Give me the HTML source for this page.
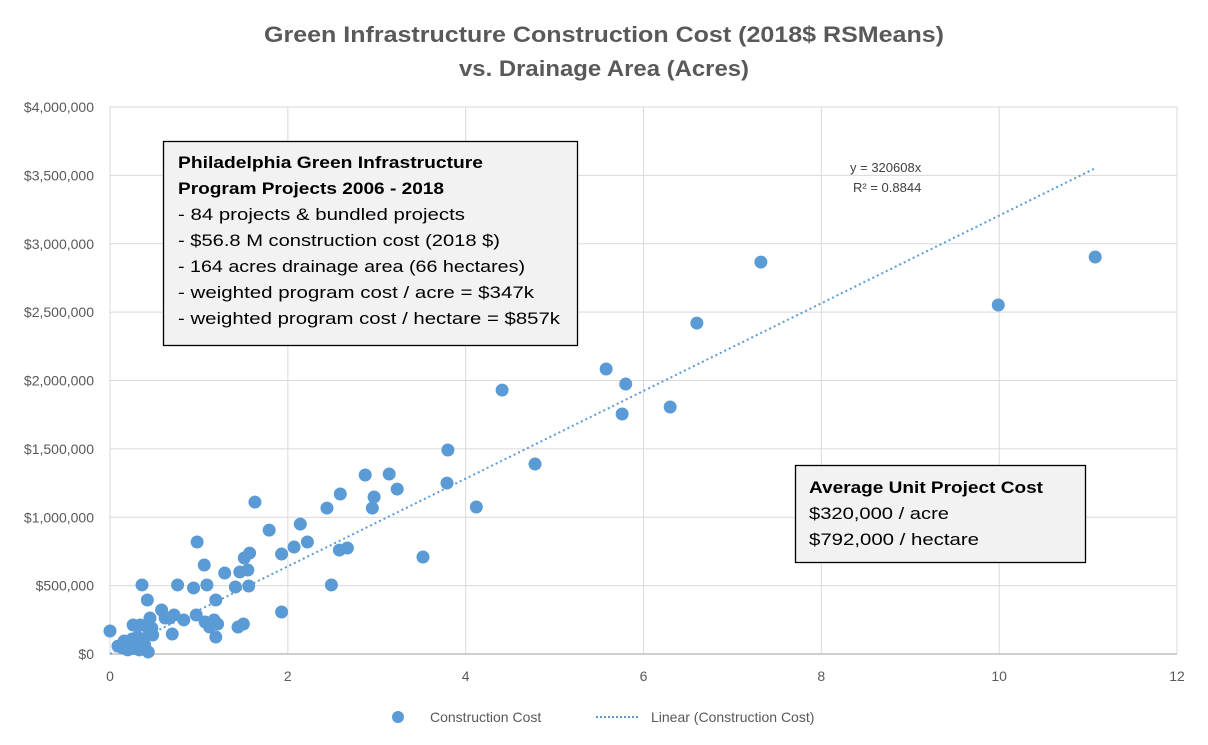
<!DOCTYPE html>
<html><head><meta charset="utf-8"><style>
body{margin:0;background:#fff;}
svg{display:block;font-family:"Liberation Sans",sans-serif;}
</style></head><body>
<svg id="chart" width="1208" height="745" viewBox="0 0 1208 745" xmlns="http://www.w3.org/2000/svg">
<rect width="1208" height="745" fill="#fff"/>
<text x="604" y="42" text-anchor="middle" font-size="22" font-weight="bold" fill="#595959" textLength="680" lengthAdjust="spacingAndGlyphs">Green Infrastructure Construction Cost (2018$ RSMeans)</text>
<text x="604" y="76" text-anchor="middle" font-size="22" font-weight="bold" fill="#595959" textLength="290" lengthAdjust="spacingAndGlyphs">vs. Drainage Area (Acres)</text>
<g id="grid"></g><g id="axes"></g><g id="trend"></g><g id="points"></g>
<text x="850" y="172" font-size="13" fill="#404040">y = 320608x</text>
<text x="853" y="192" font-size="13" fill="#404040">R² = 0.8844</text>
<g>
<rect x="163.5" y="141.5" width="414" height="204" fill="#f2f2f2" stroke="#000" stroke-width="1.3"/>
<g font-size="17" fill="#000">
<text x="178" y="168" font-weight="bold" textLength="305" lengthAdjust="spacingAndGlyphs">Philadelphia Green Infrastructure</text>
<text x="178" y="194" font-weight="bold" textLength="266" lengthAdjust="spacingAndGlyphs">Program Projects 2006 - 2018</text>
<text x="178" y="220" textLength="287" lengthAdjust="spacingAndGlyphs">- 84 projects &amp; bundled projects</text>
<text x="178" y="246" textLength="322" lengthAdjust="spacingAndGlyphs">- $56.8 M construction cost (2018 $)</text>
<text x="178" y="272" textLength="347" lengthAdjust="spacingAndGlyphs">- 164 acres drainage area (66 hectares)</text>
<text x="178" y="298" textLength="356" lengthAdjust="spacingAndGlyphs">- weighted program cost / acre = $347k</text>
<text x="178" y="324" textLength="382" lengthAdjust="spacingAndGlyphs">- weighted program cost / hectare = $857k</text>
</g></g>
<g>
<rect x="795.5" y="465.5" width="290" height="97" fill="#f2f2f2" stroke="#000" stroke-width="1.3"/>
<g font-size="17" fill="#000">
<text x="809" y="493" font-weight="bold" textLength="234" lengthAdjust="spacingAndGlyphs">Average Unit Project Cost</text>
<text x="809" y="519" textLength="140" lengthAdjust="spacingAndGlyphs">$320,000 / acre</text>
<text x="809" y="545" textLength="170" lengthAdjust="spacingAndGlyphs">$792,000 / hectare</text>
</g></g>
<g>
<circle cx="398" cy="717" r="6" fill="#5b9bd5"/>
<text x="430" y="722" font-size="14" fill="#595959">Construction Cost</text>
<line x1="596" y1="717" x2="640" y2="717" stroke="#5b9bd5" stroke-width="2" stroke-dasharray="2,2"/>
<text x="651" y="722" font-size="14" fill="#595959">Linear (Construction Cost)</text>
</g>
</svg>
<script>
const xTicks=[0,2,4,6,8,10,12];
const yTicks=[0,500000,1000000,1500000,2000000,2500000,3000000,3500000,4000000];
const yTickLabels=["$0","$500,000","$1,000,000","$1,500,000","$2,000,000","$2,500,000","$3,000,000","$3,500,000","$4,000,000"];
const areaAcres=[0,0.09,0.16,0.2,0.24,0.26,0.29,0.31,0.34,0.34,0.36,0.37,0.39,0.42,0.43,0.45,0.47,0.48,0.58,0.62,0.67,0.7,0.72,0.76,0.83,0.94,0.97,0.98,1.06,1.07,1.09,1.12,1.17,1.19,1.19,1.21,1.29,1.41,1.44,1.46,1.5,1.51,1.55,1.56,1.57,1.63,1.79,1.93,1.93,2.07,2.14,2.22,2.44,2.49,2.58,2.59,2.67,2.87,2.95,2.97,3.14,3.23,3.52,3.79,3.8,4.12,4.41,4.78,5.58,5.76,5.8,6.3,6.6,7.32,9.99,11.08,0.22,0.27,0.3,0.33,0.38,0.25,0.14,0.44];
const costDollars=[168000,58000,95000,30000,80000,212000,51000,124000,44000,212000,505000,102000,66000,395000,15000,263000,190000,139000,322000,263000,263000,146000,285000,505000,249000,483000,285000,819000,651000,234000,505000,197000,249000,124000,395000,219000,592000,490000,197000,600000,219000,702000,614000,497000,738000,1111000,906000,731000,307000,782000,950000,819000,1067000,505000,760000,1170000,775000,1309000,1067000,1148000,1316000,1206000,709000,1250000,1492000,1075000,1930000,1389000,2084000,1755000,1974000,1806000,2420000,2866000,2552000,2903000,60000,40000,90000,30000,70000,110000,45000,160000];
const slope=320608;
const trendRange=[0,11.08];
const NS="http://www.w3.org/2000/svg";
const X0=110,X1=1177,Y0=654,Y1=107;
const xs=v=>X0+(v-0)/(12-0)*(X1-X0);
const ys=v=>Y0-(v/4000000)*(Y0-Y1);
function mk(tag,attrs,parent){const e=document.createElementNS(NS,tag);for(const k in attrs)e.setAttribute(k,attrs[k]);parent.appendChild(e);return e;}
const grid=document.getElementById('grid'),axes=document.getElementById('axes'),pts=document.getElementById('points'),trend=document.getElementById('trend');
yTicks.forEach((t,i)=>{
 const l=mk('line',{x1:X0,x2:X1,y1:ys(t),y2:ys(t),stroke:'#d9d9d9','stroke-width':1},grid);
 
 
 const tx=mk('text',{x:94,y:ys(t)+5,'text-anchor':'end','font-size':14,fill:'#595959'},axes);
 tx.textContent=yTickLabels[i];
 
 
});
xTicks.forEach(t=>{
 const l=mk('line',{x1:xs(t),x2:xs(t),y1:Y1,y2:Y0,stroke:'#d9d9d9','stroke-width':1},grid);
 
 
 const tx=mk('text',{x:xs(t),y:681,'text-anchor':'middle','font-size':14,fill:'#595959'},axes);
 tx.textContent=String(t);
 
 
});
const ax=mk('line',{x1:X0,x2:X1,y1:Y0,y2:Y0,stroke:'#bfbfbf','stroke-width':1.5},axes);


const tl=mk('line',{x1:xs(trendRange[0]),y1:ys(slope*trendRange[0]),x2:xs(trendRange[1]),y2:ys(slope*trendRange[1]),stroke:'#5b9bd5','stroke-width':2,'stroke-dasharray':'2,3'},trend);


areaAcres.forEach((a,i)=>{
 const c=mk('circle',{cx:xs(a),cy:ys(costDollars[i]),r:6.5,fill:'#5b9bd5'},pts);
 
 
});
</script>
</body></html>
